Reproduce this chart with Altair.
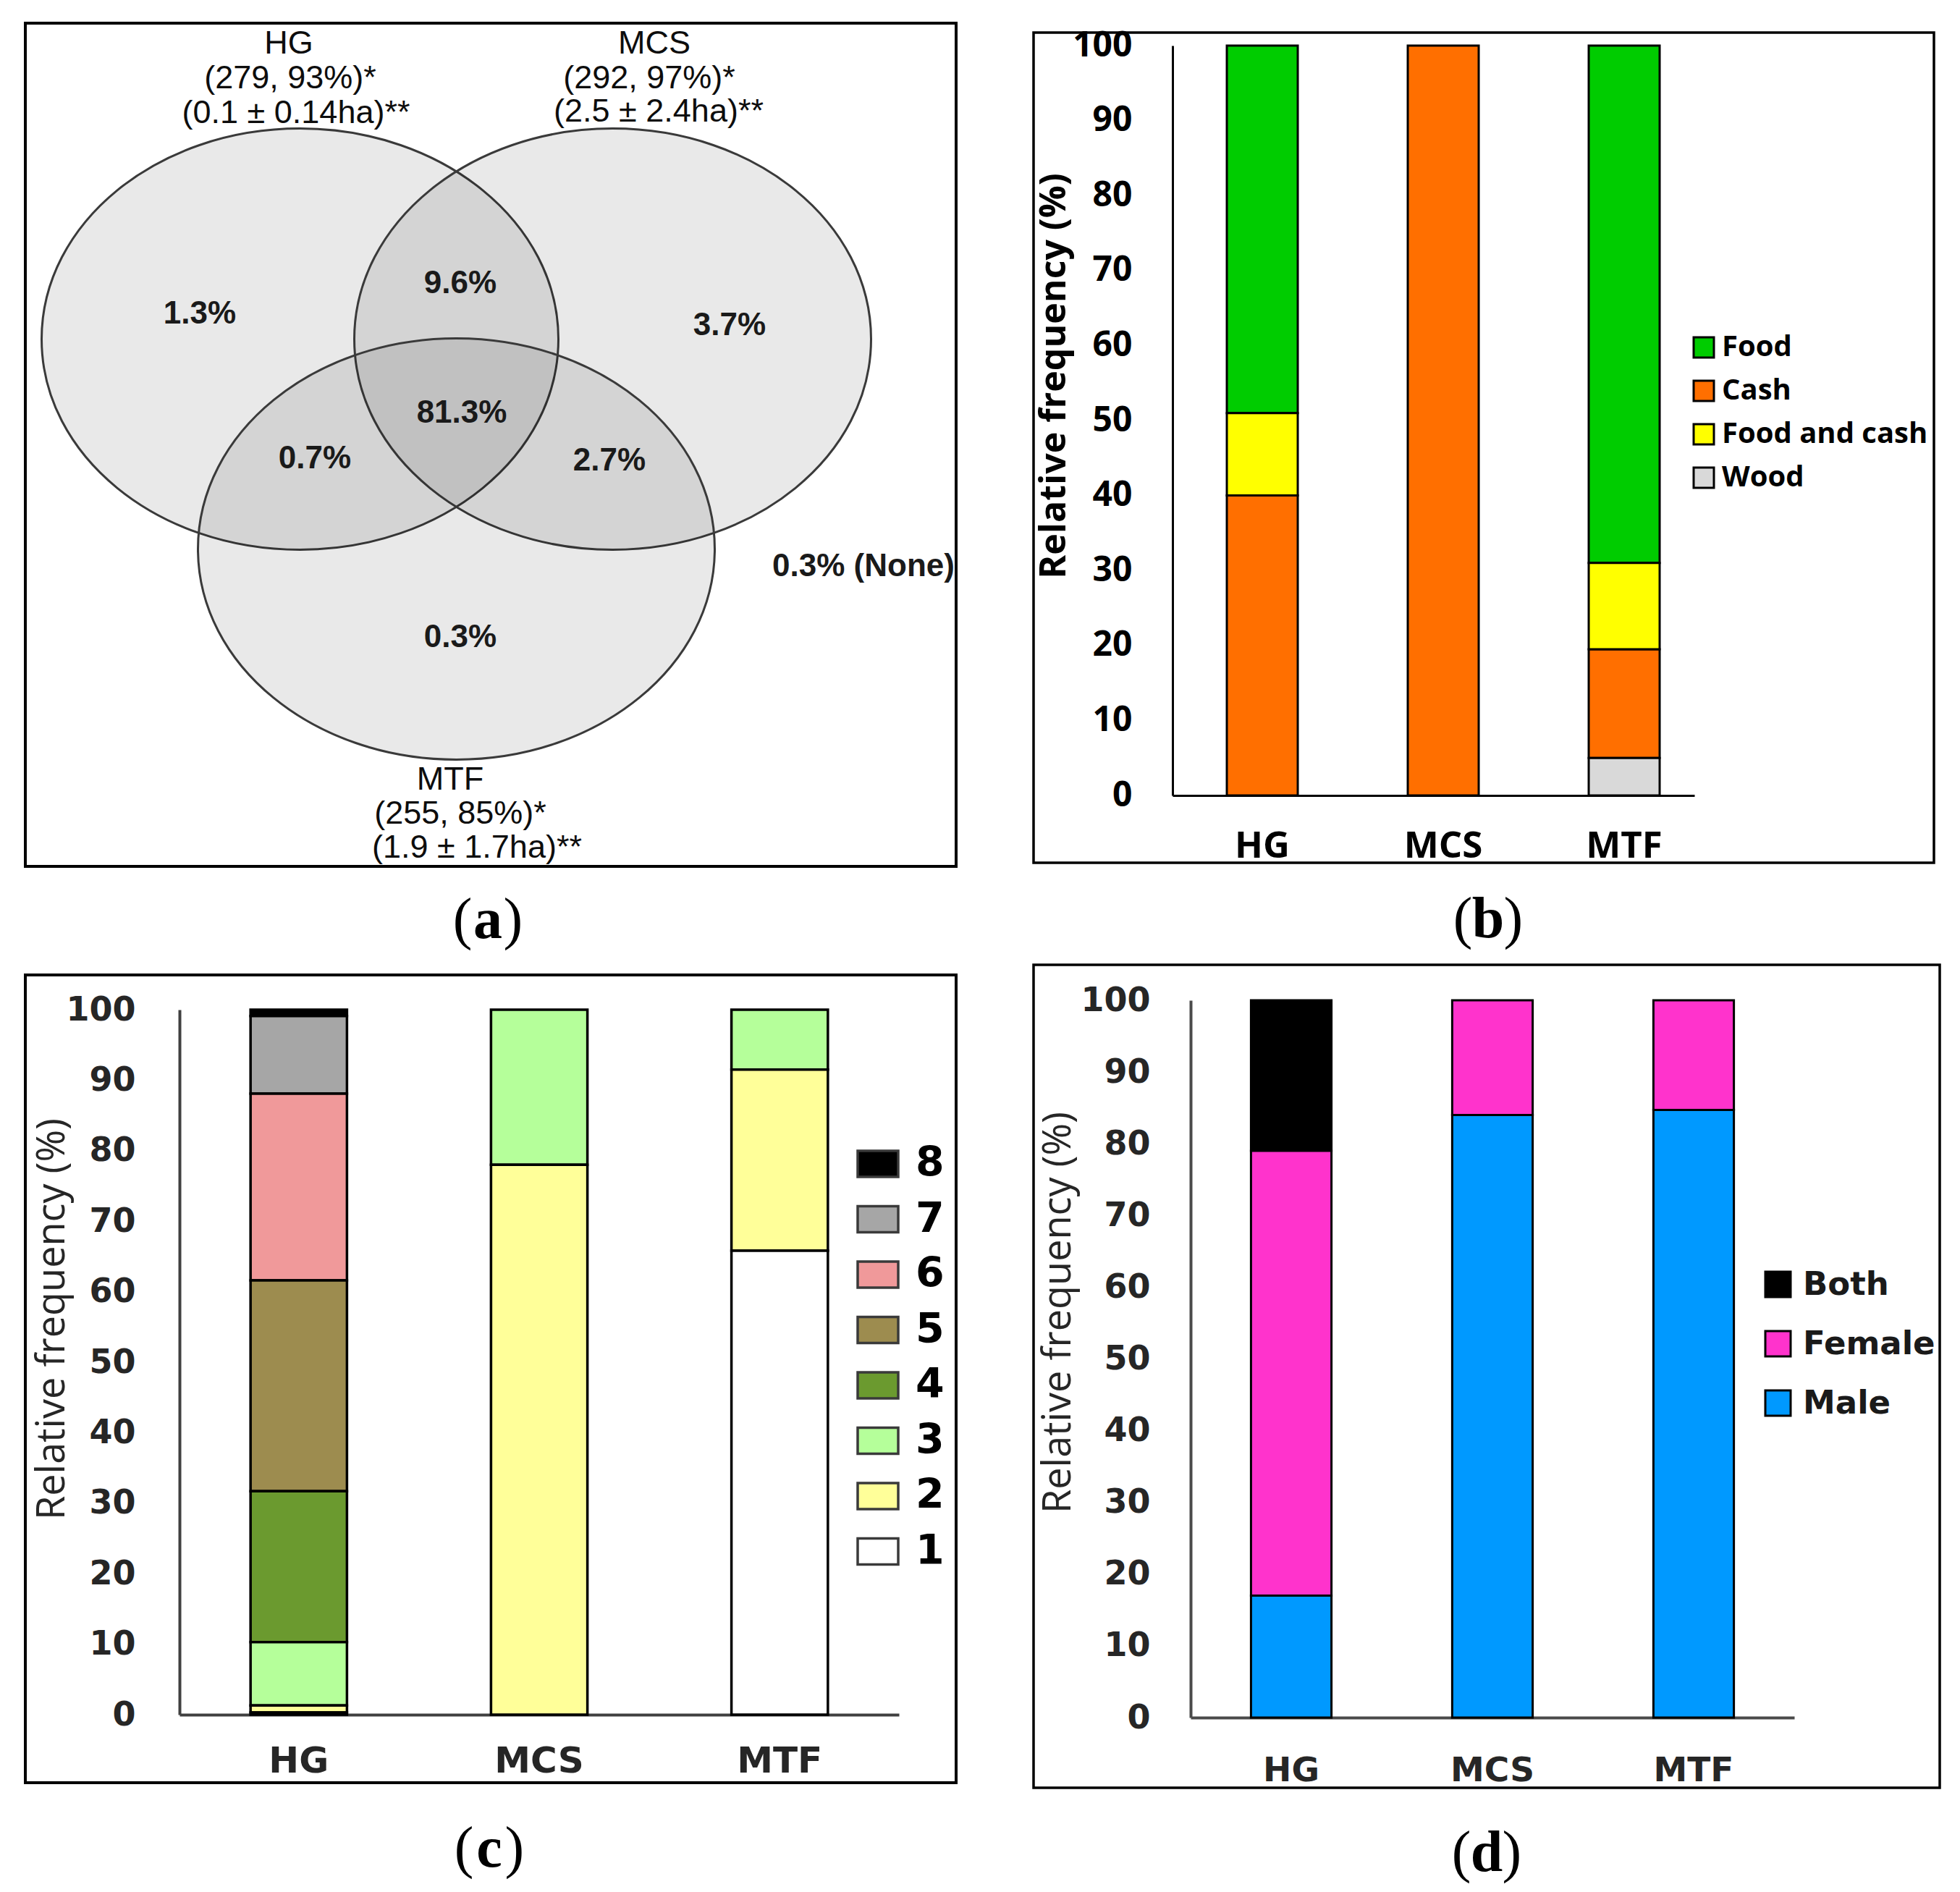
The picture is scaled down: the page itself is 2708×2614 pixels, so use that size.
import altair as alt
import pandas as pd

systems = ["HG", "MCS", "MTF"]

# ---------------- (a) Venn diagram content ----------------
venn_sets = ["HG", "MCS", "MTF"]
venn_headers = [
    "HG", "(279, 93%)*", "(0.1 ± 0.14ha)**",
    "MCS", "(292, 97%)*", "(2.5 ± 2.4ha)**",
    "MTF", "(255, 85%)*", "(1.9 ± 1.7ha)**",
]
venn_regions = ["1.3%", "9.6%", "3.7%", "81.3%", "0.7%", "2.7%", "0.3%", "0.3% (None)"]

# ---------------- (b) use of the land ----------------
use_cats = ["Food", "Cash", "Food and cash", "Wood"]      # legend order
use_stack = [3, 1, 2, 0]                                  # 0 = bottom of the bar
use_hg = [49, 40, 11, 0]
use_mcs = [0, 100, 0, 0]
use_mtf = [69, 14.5, 11.5, 5]

# ---------------- (c) classes 1-8 ----------------
num_cats = ["8", "7", "6", "5", "4", "3", "2", "1"]
num_stack = [7, 6, 5, 4, 3, 2, 1, 0]
num_hg = [0.9, 11.0, 26.5, 29.9, 21.4, 9.0, 1.0, 0.3]
num_mcs = [0, 0, 0, 0, 0, 22, 78, 0]
num_mtf = [0, 0, 0, 0, 0, 8.5, 25.7, 65.8]

# ---------------- (d) gender ----------------
sex_cats = ["Both", "Female", "Male"]
sex_stack = [2, 1, 0]
sex_hg = [21, 62, 17]
sex_mcs = [0, 16, 84]
sex_mtf = [0, 15.3, 84.7]

# ---------------- styles / layout (not data) ----------------
use_colors = ["#00CC00", "#FF6F00", "#FFFF00", "#D9D9D9"]
num_colors = ["#000000", "#A6A6A6", "#F0999A", "#9D8C4F", "#6B9A2F", "#B5FF9A", "#FFFF99", "#FFFFFF"]
sex_colors = ["#000000", "#FF33CC", "#0099FF"]

# Venn geometry: 1 venn unit = half the HG-MCS centre distance
VU = 216.0
VENN_CX, VENN_CY = 630.5, 613.5          # page position of the venn origin
venn_centres = [(-1.0, 0.671), (1.0, 0.671), (0.0, -0.671)]
# annotation anchor points, page pixels
venn_header_px = [(399, 60), (401, 108), (409, 156),
                  (904, 60), (897, 108), (910, 154),
                  (622, 1077), (636, 1124), (659, 1171)]
venn_region_px = [(276, 434), (636, 392), (1008, 450), (638, 571),
                  (435, 634), (842, 637), (636, 881), (1193, 783)]
ELLIPSE = ("M -1 0 C -1 -0.4501 -0.5523 -0.815 0 -0.815 C 0.5523 -0.815 1 -0.4501 1 0 "
           "C 1 0.4501 0.5523 0.815 0 0.815 C -0.5523 0.815 -1 0.4501 -1 0 Z")
ELL_RX_PX = 357


def to_units(p):
    return ((p[0] - VENN_CX) / VU, (VENN_CY - p[1]) / VU)


def frame(x1, x2, y1, y2, sw=3.5):
    return alt.Chart(pd.DataFrame({"k": [0]})).mark_rect(
        fill="white", fillOpacity=0, stroke="black", strokeWidth=sw
    ).encode(x=alt.value(x1), x2=alt.value(x2), y=alt.value(y1), y2=alt.value(y2))


def panel_label(letter, cx, cy, size=80):
    df = pd.DataFrame({"t": [letter]})
    half = size * 0.27
    lp = alt.Chart(df).mark_text(font="Liberation Serif", fontSize=size, align="right",
                                 baseline="middle", color="black", text="(").encode(
        x=alt.value(cx - half), y=alt.value(cy))
    mid = alt.Chart(df).mark_text(font="Liberation Serif", fontSize=size, fontWeight="bold",
                                  align="center", baseline="middle", color="black").encode(
        x=alt.value(cx), y=alt.value(cy), text="t:N")
    rp = alt.Chart(df).mark_text(font="Liberation Serif", fontSize=size, align="left",
                                 baseline="middle", color="black", text=")").encode(
        x=alt.value(cx + half), y=alt.value(cy))
    return [lp, mid, rp]


# ---------------- panel (a) ----------------
AW, AH, AOX, AOY = 967, 1036, 248, 63
xs = alt.Scale(domain=[(AOX - VENN_CX) / VU, (AOX + AW - VENN_CX) / VU], nice=False, zero=False)
ys = alt.Scale(domain=[(VENN_CY - AOY - AH) / VU, (VENN_CY - AOY) / VU], nice=False, zero=False)

hdr_u = [to_units(p) for p in venn_header_px]
reg_u = [to_units(p) for p in venn_region_px]
ell_df = pd.DataFrame({"set": venn_sets,
                       "x": [p[0] for p in venn_centres],
                       "y": [p[1] for p in venn_centres]})
hdr_df = pd.DataFrame({"label": venn_headers, "x": [p[0] for p in hdr_u], "y": [p[1] for p in hdr_u]})
reg_df = pd.DataFrame({"label": venn_regions, "x": [p[0] for p in reg_u], "y": [p[1] for p in reg_u]})

ellipses = alt.Chart(ell_df).mark_point(
    shape=ELLIPSE, size=(2 * ELL_RX_PX) ** 2, filled=True, fill="#000000",
    fillOpacity=0.085, stroke="#3a3a3a", strokeWidth=3, strokeOpacity=1, opacity=1
).encode(x=alt.X("x:Q", scale=xs, axis=None), y=alt.Y("y:Q", scale=ys, axis=None))

headers = alt.Chart(hdr_df).mark_text(
    font="Liberation Sans", fontSize=45, fontWeight="normal", color="#0d0d0d"
).encode(x=alt.X("x:Q", scale=xs, axis=None), y=alt.Y("y:Q", scale=ys, axis=None), text="label:N")

regions = alt.Chart(reg_df).mark_text(
    font="Liberation Sans", fontSize=44, fontWeight="bold", color="#1a1a1a"
).encode(x=alt.X("x:Q", scale=xs, axis=None), y=alt.Y("y:Q", scale=ys, axis=None), text="label:N")

panel_a = alt.layer(
    ellipses, headers, regions,
    frame(35 - AOX, 1073, -31, 1134, 4),
    *panel_label("a", 426, 1209),
).properties(width=AW, height=AH)


# ---------------- stacked bar helper ----------------
def stack_df(cats, order, series):
    rows = []
    for s, vals in zip(systems, series):
        for c, o, v in zip(cats, order, vals):
            if v > 0:
                rows.append({"system": s, "cat": c, "value": v, "stack": o})
    return pd.DataFrame(rows)


def bar_panel(df, cats, colors, xscale, yscale, bar_sw, yaxis, xaxis, legend):
    return alt.Chart(df).mark_bar(stroke="black", strokeWidth=bar_sw).encode(
        x=alt.X("system:N", sort=systems, scale=xscale, axis=xaxis),
        y=alt.Y("value:Q", stack="zero", scale=yscale, axis=yaxis),
        color=alt.Color("cat:N", scale=alt.Scale(domain=cats, range=colors), legend=legend),
        order=alt.Order("stack:Q", sort="ascending"),
    )


TICKS = list(range(0, 101, 10))

# ---------------- panel (b) ----------------
BW, BH = 721, 1036
b_bars = bar_panel(
    stack_df(use_cats, use_stack, [use_hg, use_mcs, use_mtf]), use_cats, use_colors,
    alt.Scale(domain=systems, paddingInner=0.608, paddingOuter=0.246, align=0.61),
    alt.Scale(domain=[0, 100], nice=False),
    3,
    alt.Axis(values=TICKS, ticks=False, grid=False, domainColor="black", domainWidth=3,
             labelFont="Open Sans", labelFontSize=48, labelFontWeight="bold", labelColor="black",
             labelPadding=56, title="Relative frequency (%)", titleFont="Open Sans", titleFontSize=50,
             titleFontWeight="bold", titleColor="black", titleAngle=270, titleX=-139, titleY=456,
             titleAlign="center", titleBaseline="bottom"),
    alt.Axis(ticks=False, grid=False, domainColor="black", domainWidth=3, labelAngle=0,
             labelFont="Open Sans", labelFontSize=51, labelFontWeight="bold", labelColor="black",
             labelPadding=45, title=None),
    alt.Legend(orient="none", legendX=714, legendY=397, title=None, direction="vertical",
               labelFont="Open Sans", labelFontSize=40, labelFontWeight="bold", labelColor="black",
               labelLimit=1000, symbolType="square", symbolSize=784, symbolStrokeColor="black",
               symbolStrokeWidth=3, rowPadding=20, labelOffset=5, padding=0),
)
panel_b = alt.layer(
    b_bars,
    frame(-192, 1052, -18, 1129, 3.5),
    *panel_label("b", 436, 1208),
).properties(width=BW, height=BH)

# ---------------- panel (c) ----------------
CW, CH = 994, 987
c_bars = bar_panel(
    stack_df(num_cats, num_stack, [num_hg, num_mcs, num_mtf]), num_cats, num_colors,
    alt.Scale(domain=systems, paddingInner=0.599, paddingOuter=0.2955, align=0.5),
    alt.Scale(domain=[0, 100], nice=False, range=[CH, 13]),
    3.5,
    alt.Axis(values=TICKS, ticks=False, grid=False, domainColor="#404040", domainWidth=4,
             labelFont="DejaVu Sans", labelFontSize=46, labelFontWeight="bold", labelColor="#262626",
             labelPadding=61, title="Relative frequency (%)", titleFont="Open Sans", titleFontSize=54,
             titleFontWeight="normal", titleColor="#262626", titleAngle=270, titleX=-149, titleY=440,
             titleAlign="center", titleBaseline="bottom"),
    alt.Axis(ticks=False, grid=False, domainColor="#404040", domainWidth=4, labelAngle=0,
             labelFont="DejaVu Sans", labelFontSize=50, labelFontWeight="bold", labelColor="#262626",
             labelPadding=39, title=None),
    alt.Legend(orient="none", legendX=935, legendY=196, title=None, direction="vertical",
               labelFont="DejaVu Sans", labelFontSize=57, labelFontWeight="bold", labelColor="black",
               labelLimit=1000, symbolType="M-1,-0.64H1V0.64H-1Z", symbolSize=3136,
               symbolStrokeColor="#3a3a3a", symbolStrokeWidth=3.5, rowPadding=18.5, labelOffset=22,
               padding=0),
)
panel_c = alt.layer(
    c_bars,
    frame(35 - AOX, 1073, -35, 1081, 4),
    *panel_label("c", 428, 1173),
).properties(width=CW, height=CH)

# ---------------- panel (d) ----------------
D_OFF, D_AXW, DH = 25, 834, 991
d_bars = bar_panel(
    stack_df(sex_cats, sex_stack, [sex_hg, sex_mcs, sex_mtf]), sex_cats, sex_colors,
    alt.Scale(domain=systems, paddingInner=0.6, paddingOuter=0.3, align=0.5,
              range=[D_OFF, D_OFF + D_AXW]),
    alt.Scale(domain=[0, 100], nice=False),
    3,
    alt.Axis(values=TICKS, ticks=False, grid=False, domainColor="#4a4a4a", domainWidth=4,
             labelFont="DejaVu Sans", labelFontSize=46, labelFontWeight="bold", labelColor="#262626",
             labelPadding=56, offset=-D_OFF, title="Relative frequency (%)", titleFont="Open Sans",
             titleFontSize=54, titleFontWeight="normal", titleColor="#262626", titleAngle=270,
             titleX=-156, titleY=431, titleAlign="center", titleBaseline="bottom"),
    alt.Axis(ticks=False, grid=False, domainColor="#4a4a4a", domainWidth=4, labelAngle=0,
             labelFont="DejaVu Sans", labelFontSize=47, labelFontWeight="bold", labelColor="#262626",
             labelPadding=50, title=None),
    alt.Legend(orient="none", legendX=814, legendY=370, title=None, direction="vertical",
               labelFont="DejaVu Sans", labelFontSize=45, labelFontWeight="bold", labelColor="#1a1a1a",
               labelLimit=1000, symbolType="square", symbolSize=1225, symbolStrokeColor="black",
               symbolStrokeWidth=3, rowPadding=35, labelOffset=12, padding=0),
)
panel_d = alt.layer(
    d_bars,
    frame(-192, 1060, -49, 1088, 3.5),
    *panel_label("d", 434, 1179),
).properties(width=D_OFF + D_AXW, height=DH)

chart = alt.concat(
    panel_a, panel_b, panel_c, panel_d,
    columns=2, align="none", bounds="flush",
    spacing={"row": 283, "column": 378},
).properties(
    padding={"left": 25, "top": 22, "right": 10, "bottom": 10},
    background="white",
).configure_view(stroke=None).resolve_scale(color="independent")

chart.save("out.html", embed_options={"renderer": "svg", "actions": False})
